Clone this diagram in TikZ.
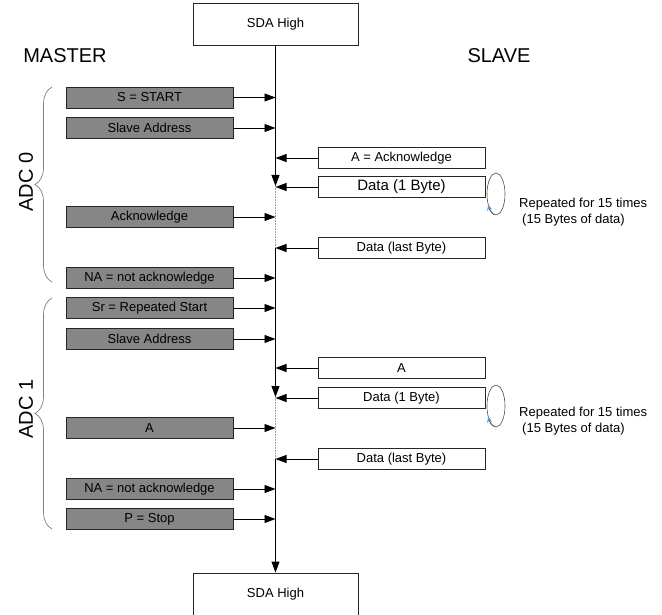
\documentclass[tikz,border=0pt]{standalone}
\usepackage{fontspec}
\setmainfont{Liberation Sans}
\usetikzlibrary{arrows.meta,decorations.pathreplacing}

\begin{document}
\begin{tikzpicture}[x=1pt,y=-1pt]
\definecolor{mfill}{RGB}{134,134,134}
\definecolor{bracecolor}{RGB}{128,128,128}
\definecolor{tipcolor}{RGB}{90,150,220}
\tikzstyle{master}=[draw=black!85,fill=mfill,line width=0.8pt,minimum width=167pt,minimum height=21pt,inner sep=0pt,font=\fontsize{13}{15}\selectfont]
\tikzstyle{slave}=[master,fill=white]
\tikzstyle{sda}=[draw=black!85,line width=0.8pt,minimum width=165pt,minimum height=42pt,inner sep=0pt,font=\fontsize{13}{15}\selectfont]
\tikzstyle{side}=[font=\fontsize{20}{24}\selectfont]
\tikzstyle{edge}=[line width=0.9pt,-{Triangle[length=11pt,width=8pt]}]
\tikzstyle{spine}=[line width=0.9pt]
\tikzstyle{gap}=[line width=0.6pt,black!40,densely dotted]
\tikzstyle{adcbrace}=[bracecolor,line width=0.7pt,decorate,decoration={brace,amplitude=17pt}]
\tikzstyle{rep}=[black!70,line width=0.6pt]
\tikzstyle{reptip}=[black!70,line width=0.6pt,-{Stealth[length=6pt,width=5pt,color=tipcolor]}]
\tikzstyle{note}=[anchor=west,align=left,inner sep=0pt,font=\fontsize{13}{16}\selectfont]
\useasboundingbox (0,0) rectangle (662,615);
% headers
\node[sda] (top) at (275.5,24) {SDA High};
\node[side] (mst) at (65,56) {MASTER};
\node[side] (slv) at (499,56) {SLAVE};
% ADC 0
\node[master] (m1) at (149.5,97.5) {S = START};
\node[master] (m2) at (149.5,128) {Slave Address};
\node[slave] (s1) at (401.5,158) {A = Acknowledge};
\node[slave,font=\fontsize{15}{17}\selectfont] (s2) at (401.5,187) {Data (1 Byte)};
\node[master] (m3) at (149.5,217) {Acknowledge};
\node[slave] (s3) at (401.5,248) {Data (last Byte)};
\node[master] (m4) at (149.5,278) {NA = not acknowledge};
% ADC 1
\node[master] (m5) at (149.5,308) {Sr = Repeated Start};
\node[master] (m6) at (149.5,339) {Slave Address};
\node[slave] (s4) at (401.5,368) {A};
\node[slave] (s5) at (401.5,398) {Data (1 Byte)};
\node[master] (m7) at (149.5,428) {A};
\node[slave] (s6) at (401.5,459) {Data (last Byte)};
\node[master] (m8) at (149.5,489) {NA = not acknowledge};
\node[master] (m9) at (149.5,519) {P = Stop};
\node[sda] (bot) at (275.5,594) {SDA High};
% spine
\coordinate (a0) at (275.5,186);
\coordinate (a1) at (275.5,248);
\coordinate (b0) at (275.5,397);
\coordinate (b1) at (275.5,459);
\draw[edge] (top.south) -- (a0);
\draw[gap] (a0) -- (a1);
\draw[spine] (a1) -- (b0 |- s4.west);
\draw[edge] (b0 |- s4.west) -- (b0);
\draw[gap] (b0) -- (b1);
\draw[edge] (b1) -- (bot.north);
% master to slave
\foreach \m in {m1,m2,m3,m4,m5,m6,m7,m8,m9}
  \draw[edge] (\m.east) -- (\m.east -| top.south);
% slave to master
\foreach \s in {s1,s2,s3,s4,s5,s6}
  \draw[edge] (\s.west) -- (\s.west -| top.south);
% braces
\draw[adcbrace] (52,282) -- (52,87);
\node[side,rotate=90] (adc0) at (26,182) {ADC 0};
\draw[adcbrace] (52,529) -- (52,298);
\node[side,rotate=90] (adc1) at (26,409) {ADC 1};
% repeat loops
\draw[rep] (496,194) ellipse [x radius=9, y radius=21];
\draw[reptip] (496,194) ++(100:9 and 21) arc [start angle=100, end angle=150, x radius=9, y radius=21];
\node[note] (r0) at (519,212) {Repeated for 15 times\\\hspace{3pt}(15 Bytes of data)};
\draw[rep] (496,406) ellipse [x radius=9, y radius=21];
\draw[reptip] (496,406) ++(100:9 and 21) arc [start angle=100, end angle=150, x radius=9, y radius=21];
\node[note] (r1) at (519,421) {Repeated for 15 times\\\hspace{3pt}(15 Bytes of data)};
\end{tikzpicture}
\end{document}
